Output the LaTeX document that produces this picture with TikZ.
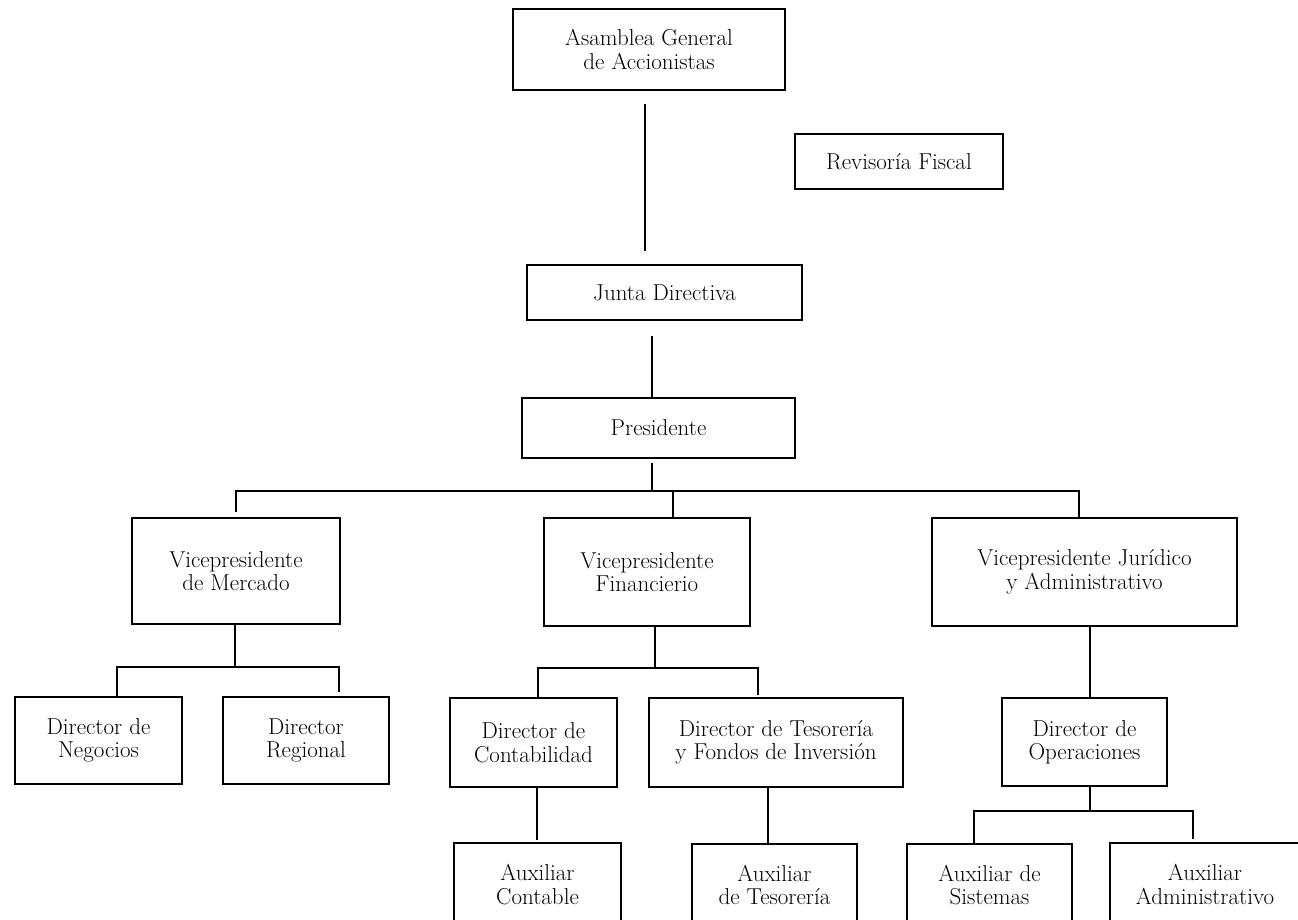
\documentclass[tikz,border=0pt]{standalone}
\usepackage{fontspec}
\begin{document}
\begin{tikzpicture}[x=1pt,y=-1pt,
  box/.style={draw=black, line width=1.8pt, align=center, inner sep=0pt,
    font=\fontsize{23}{23.5}\selectfont},
  conn/.style={draw=black, line width=1.8pt}]
\useasboundingbox (0,0) rectangle (1298,919);
\clip (0,0) rectangle (1298,919);
% boxes
\node[box, minimum width=272pt, minimum height=81pt] (asam) at (649,49.5) {Asamblea General\\de Accionistas};
\node[box, minimum width=208pt, minimum height=55pt] (rev) at (899,161.5) {Revisoría Fiscal};
\node[box, minimum width=275pt, minimum height=55pt] (junta) at (664.5,292.5) {Junta Directiva};
\node[box, minimum width=273pt, minimum height=60pt] (pres) at (658.5,428) {Presidente};
\node[box, minimum width=208pt, minimum height=106pt] (vpm) at (236,571) {Vicepresidente\\de Mercado};
\node[box, minimum width=206pt, minimum height=108pt] (vpf) at (647,572) {Vicepresidente\\Financierio};
\node[box, minimum width=305pt, minimum height=108pt] (vpj) at (1084.5,572) {Vicepresidente Jurídico\\y Administrativo};
\node[box, minimum width=167pt, minimum height=87pt] (dneg) at (98.5,740.5) {Director de\\Negocios};
\node[box, minimum width=166pt, minimum height=87pt] (dreg) at (306,740.5) {Director\\Regional};
\node[box, minimum width=167pt, minimum height=89pt] (dcon) at (533.5,742.5) {Director de\\Contabilidad};
\node[box, minimum width=254pt, minimum height=89pt] (dtes) at (776,742.5) {Director de Tesorería\\y Fondos de Inversión};
\node[box, minimum width=165pt, minimum height=88pt] (dope) at (1084.5,742) {Director de\\Operaciones};
\node[box, minimum width=167pt, minimum height=83pt] (acon) at (537.5,884.5) {Auxiliar\\Contable};
\node[box, minimum width=165pt, minimum height=82pt] (ates) at (774.5,885) {Auxiliar\\de Tesorería};
\node[box, minimum width=165pt, minimum height=82pt] (asis) at (989.5,885) {Auxiliar de\\Sistemas};
\node[box, minimum width=190pt, minimum height=83pt] (aadm) at (1205,884.5) {Auxiliar\\Administrativo};
% junction coordinates
\coordinate (xA) at (645,0);
\coordinate (xB) at (652,0);
\coordinate (busP) at (652,491);
\coordinate (xF) at (673,0);
\coordinate (xJ) at (1079,0);
\coordinate (xM) at (235,0);
\coordinate (bM) at (235,667);
\coordinate (xN) at (117,0);
\coordinate (xR) at (339,0);
\coordinate (xG) at (655,0);
\coordinate (bF) at (655,668);
\coordinate (xC) at (538,0);
\coordinate (xT) at (758,0);
\coordinate (xC2) at (537,0);
\coordinate (xT2) at (768,0);
\coordinate (xO) at (1090,0);
\coordinate (bO) at (1090,811);
\coordinate (xS) at (974,0);
\coordinate (xD) at (1193,0);
% connectors
\draw[conn, shorten <=13pt, shorten >=13pt] (asam.south -| xA) -- (junta.north -| xA);
\draw[conn, shorten <=15pt] (junta.south -| xB) -- (pres.north -| xB);
\draw[conn, shorten <=4pt] (pres.south -| xB) -- (busP);
\draw[conn, shorten >=5pt] (busP) -| (vpm.north);
\draw[conn] (busP) -| (vpf.north -| xF);
\draw[conn] (busP) -| (vpj.north -| xJ);
\draw[conn] (vpm.south -| xM) -- (bM);
\draw[conn] (bM) -| (dneg.north -| xN);
\draw[conn, shorten >=4pt] (bM) -| (dreg.north -| xR);
\draw[conn] (vpf.south -| xG) -- (bF);
\draw[conn] (bF) -| (dcon.north -| xC);
\draw[conn, shorten >=2pt] (bF) -| (dtes.north -| xT);
\draw[conn, shorten >=2pt] (dcon.south -| xC2) -- (acon.north -| xC2);
\draw[conn] (dtes.south -| xT2) -- (ates.north -| xT2);
\draw[conn] (vpj.south -| xO) -- (dope.north -| xO);
\draw[conn] (dope.south -| xO) -- (bO);
\draw[conn] (bO) -| (asis.north -| xS);
\draw[conn, shorten >=3pt] (bO) -| (aadm.north -| xD);
\end{tikzpicture}
\end{document}
